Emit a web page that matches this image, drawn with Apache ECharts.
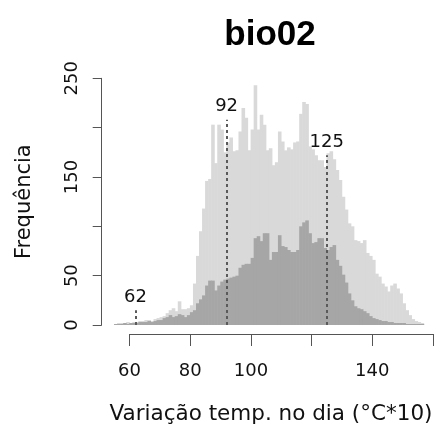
<!DOCTYPE html>
<html>
<head>
<meta charset="utf-8">
<script src="https://cdn.jsdelivr.net/npm/echarts@6/dist/echarts.min.js"></script>
<style>
html,body{margin:0;padding:0;background:#fff;}
#chart{width:438px;height:441px;}
</style>
</head>
<body>
<div id="chart"></div>
<script>
// Histogram bins: width 1, left edges from 55 to 156
const binStart = 55;
const binWidth = 1;
// Light grey histogram (all records)
const lightCounts = [
  1,2,2,2,3,
  2,3,3,4,4,
  5,5,4,6,7,
  8,9,12,15,17,
  14,24,16,16,17,
  20,42,70,95,118,
  146,148,203,164,203,
  198,175,185,190,176,
  177,196,220,210,177,
  198,243,198,213,203,
  177,179,162,165,196,
  186,177,180,178,185,
  186,214,226,224,181,
  178,172,167,167,160,
  174,176,168,157,147,
  130,117,103,100,86,
  85,83,86,73,70,
  66,52,49,42,39,
  34,40,42,37,32,
  22,15,10,6,4,
  3,2
];
// Dark grey histogram (subset)
const darkCounts = [
  1,1,1,2,1,
  2,2,2,3,3,
  3,4,3,4,5,
  5,7,8,10,8,
  9,11,10,8,10,
  13,15,22,26,30,
  40,45,45,35,40,
  44,46,47,48,49,
  50,58,61,62,62,
  68,88,90,85,93,
  93,66,74,74,91,
  80,79,76,74,74,
  76,100,104,106,93,
  83,84,88,88,78,
  76,79,81,66,60,
  51,43,32,25,19,
  17,16,14,12,9,
  7,6,5,4,4,
  3,3,2,2,2,
  2,1,1,1,1,
  1,1
];
// Marked values (dotted vertical lines) and their line heights
const markValues = [62, 92, 125];
const markHeights = [15, 208, 172];
// Axis ticks
const xTicks = [60, 80, 100, 120, 140, 160];
const xTickLabels = ['60', '80', '100', '', '140', ''];
const yTicks = [0, 50, 100, 150, 200, 250];
const yTickLabels = ['0', '50', '', '150', '', '250'];

const titleText = 'bio02';
const xTitle = 'Variação temp. no dia (°C*10)';
const yTitle = 'Frequência';

function toPairs(arr) {
  return arr.map((v, i) => [binStart + i * binWidth + binWidth / 2, v]);
}

const FONT = 'DejaVu Sans';
const AXIS_COLOR = '#555';
const TEXT_COLOR = '#111';

const chart = echarts.init(document.getElementById('chart'), null, {renderer: 'canvas'});

const xMinMain = 60 - (129.5 - 101.7) / 3.035;

chart.setOption({
  animation: false,
  backgroundColor: '#fff',
  title: [
    {
      text: titleText, left: 265, top: 13, textAlign: 'center',
      textStyle: {fontFamily: 'Liberation Sans', fontWeight: 'bold', fontSize: 35, color: '#000'}
    },
    {
      text: xTitle, left: 266, top: 398, textAlign: 'center',
      textStyle: {fontFamily: FONT, fontWeight: 'normal', fontSize: 21.5, color: TEXT_COLOR}
    }
  ],
  grid: [
    {left: 101.7, top: 78.3, width: 331.3, height: 246.7},
    {left: 129.5, top: 300, width: 303.5, height: 34}
  ],
  xAxis: [
    {
      gridIndex: 0, type: 'value', min: xMinMain, max: 160,
      axisLine: {show: false}, axisTick: {show: false}, axisLabel: {show: false}, splitLine: {show: false}
    },
    {
      gridIndex: 1, type: 'value', min: 60, max: 160, interval: 20, position: 'bottom',
      axisLine: {show: true, onZero: false, lineStyle: {color: AXIS_COLOR, width: 1}},
      axisTick: {show: true, length: 12, lineStyle: {color: AXIS_COLOR, width: 1}},
      axisLabel: {
        show: true, margin: 28, fontFamily: FONT, fontSize: 18, color: TEXT_COLOR,
        formatter: v => { const i = xTicks.indexOf(v); return i >= 0 ? xTickLabels[i] : ''; }
      },
      splitLine: {show: false}
    }
  ],
  yAxis: [
    {
      gridIndex: 0, type: 'value', min: 0, max: 250, interval: 50,
      name: yTitle, nameLocation: 'middle', nameGap: 67, nameRotate: 90,
      nameTextStyle: {fontFamily: FONT, fontSize: 21, color: TEXT_COLOR},
      axisLine: {show: true, lineStyle: {color: AXIS_COLOR, width: 1}},
      axisTick: {show: true, length: 9, lineStyle: {color: AXIS_COLOR, width: 1}},
      axisLabel: {
        show: true, rotate: 90, margin: 20, fontFamily: FONT, fontSize: 18, color: TEXT_COLOR,
        formatter: v => { const i = yTicks.indexOf(v); return i >= 0 ? yTickLabels[i] : ''; }
      },
      splitLine: {show: false}
    },
    {
      gridIndex: 1, type: 'value', show: false, min: 0, max: 1
    }
  ],
  series: [
    {
      type: 'bar', xAxisIndex: 0, yAxisIndex: 0,
      data: toPairs(lightCounts), barWidth: 3.6, barGap: '-100%',
      itemStyle: {color: '#d9d9d9'}, silent: true
    },
    {
      type: 'bar', xAxisIndex: 0, yAxisIndex: 0,
      data: toPairs(darkCounts), barWidth: 3.6, barGap: '-100%',
      itemStyle: {color: '#a6a6a6'}, silent: true,
      markLine: {
        silent: true, symbol: ['none', 'none'],
        lineStyle: {color: '#5a5a5a', width: 2, type: [3, 3]},
        label: {show: true, position: 'end', distance: 4, fontFamily: FONT, fontSize: 18, color: TEXT_COLOR},
        data: markValues.map((v, i) => [
          {coord: [v, 0], label: {formatter: String(v)}},
          {coord: [v, markHeights[i]]}
        ])
      }
    }
  ]
});
</script>
</body>
</html>
